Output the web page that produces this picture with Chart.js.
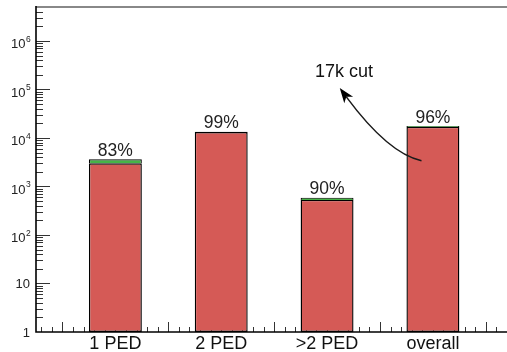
<!DOCTYPE html>
<html>
<head>
<meta charset="utf-8">
<script src="https://cdn.jsdelivr.net/npm/chart.js@4/dist/chart.umd.min.js"></script>
<style>
  html, body { margin: 0; padding: 0; background: #fff; overflow: hidden; }
  canvas { display: block; }
</style>
</head>
<body>
<canvas id="c" width="507" height="352"></canvas>
<script>
// Event categories and their positions on the x axis
const categories = ['1 PED', '2 PED', '>2 PED', 'overall'];
const positions = [1, 2, 3, 4];
// All events and events surviving the cut, per category
const totals = [3620, 13400, 585, 17600];
const passed = [3000, 13270, 527, 16900];
// Axis ranges and decade labels of the log axis
const xRange = [0.25, 4.7];
const yRange = [1, 5e6];
const decades = [0, 1, 2, 3, 4, 5, 6];
// Annotation text
const noteText = '17k cut';

const FONT = '"Liberation Sans", Arial, Helvetica, sans-serif';
const RED = 'rgb(213, 90, 86)';
const GREEN = 'rgb(70, 180, 70)';

const pct = totals.map((t, i) => Math.round(100 * passed[i] / t) + '%');

const framePlugin = {
  id: 'frame',
  beforeDatasetsDraw(chart) {
    const { ctx, chartArea: a, scales: { x, y } } = chart;
    ctx.save();
    ctx.strokeStyle = '#333';
    ctx.lineWidth = 1;
    ctx.beginPath();
    // x ticks: every 0.1, long ones between the bars
    for (let k = Math.ceil(xRange[0] * 10); k <= Math.floor(xRange[1] * 10); k++) {
      const px = Math.round(x.getPixelForValue(k / 10)) + 0.5;
      if (px <= a.left + 1) continue;
      const len = (k % 10 === 5) ? 10 : 5;
      ctx.moveTo(px, a.bottom);
      ctx.lineTo(px, a.bottom - len);
    }
    // y ticks: decades long, 2..9 short
    decades.forEach(n => {
      for (let m = 1; m <= 9; m++) {
        const v = m * Math.pow(10, n);
        if (v > yRange[1] || v <= yRange[0]) continue;
        const py = Math.round(y.getPixelForValue(v)) + 0.5;
        const len = (m === 1) ? 14 : 7;
        ctx.moveTo(a.left, py);
        ctx.lineTo(a.left + len, py);
      }
    });
    ctx.stroke();
    ctx.restore();
  },
  afterDatasetsDraw(chart) {
    const { ctx, chartArea: a, scales: { x, y } } = chart;
    ctx.save();
    // frame: grey top line, black left and bottom axes
    ctx.strokeStyle = '#888';
    ctx.lineWidth = 2;
    ctx.beginPath();
    ctx.moveTo(a.left, a.top);
    ctx.lineTo(a.right, a.top);
    ctx.stroke();
    ctx.strokeStyle = '#000';
    ctx.lineWidth = 1.6;
    ctx.beginPath();
    ctx.moveTo(a.left, a.top - 1);
    ctx.lineTo(a.left, a.bottom);
    ctx.lineTo(a.right, a.bottom);
    ctx.stroke();

    // y labels: 1, 10, 10^n
    ctx.fillStyle = '#222';
    ctx.textAlign = 'right';
    ctx.textBaseline = 'alphabetic';
    decades.forEach(n => {
      const py = y.getPixelForValue(Math.pow(10, n));
      if (n < 2) {
        ctx.font = '13px ' + FONT;
        ctx.fillText(n === 0 ? '1' : '10', 30, py + 4.5);
      } else {
        ctx.font = '13px ' + FONT;
        ctx.textAlign = 'right';
        ctx.fillText('10', 25.5, py + 7.5);
        ctx.font = '8.5px ' + FONT;
        ctx.textAlign = 'left';
        ctx.fillText(String(n), 26, py + 1);
        ctx.textAlign = 'right';
      }
    });

    // category labels under the bars
    ctx.font = '18px ' + FONT;
    ctx.textAlign = 'center';
    ctx.textBaseline = 'alphabetic';
    ctx.fillStyle = '#111';
    positions.forEach((p, i) => {
      ctx.fillText(categories[i], x.getPixelForValue(p), a.bottom + 17);
    });

    // efficiency labels above the bars
    ctx.font = '17.5px ' + FONT;
    ctx.fillStyle = '#222';
    positions.forEach((p, i) => {
      ctx.fillText(pct[i], x.getPixelForValue(p), y.getPixelForValue(totals[i]) - 3.5);
    });

    // annotation: text and curved arrow (data coordinates)
    ctx.textAlign = 'left';
    ctx.font = '18px ' + FONT;
    ctx.fillStyle = '#111';
    ctx.fillText(noteText, x.getPixelForValue(2.885), y.getPixelForValue(1.8e5));

    const p0 = [x.getPixelForValue(3.892), y.getPixelForValue(3400)];
    const c = [x.getPixelForValue(3.578), y.getPixelForValue(4800)];
    const p2 = [x.getPixelForValue(3.12), y.getPixelForValue(1.07e5)];
    const dx = p2[0] - c[0], dy = p2[1] - c[1];
    const L = Math.hypot(dx, dy);
    const ux = dx / L, uy = dy / L;
    const nx = -uy, ny = ux;
    const headLen = 15, headHalf = 5.5, notch = 4;
    const base = [p2[0] - ux * (headLen - notch), p2[1] - uy * (headLen - notch)];

    ctx.strokeStyle = '#1a1a1a';
    ctx.lineWidth = 1.5;
    ctx.beginPath();
    ctx.moveTo(p0[0], p0[1]);
    ctx.quadraticCurveTo(c[0], c[1], base[0], base[1]);
    ctx.stroke();

    ctx.fillStyle = '#000';
    ctx.beginPath();
    ctx.moveTo(p2[0], p2[1]);
    ctx.lineTo(p2[0] - ux * headLen + nx * headHalf, p2[1] - uy * headLen + ny * headHalf);
    ctx.lineTo(base[0], base[1]);
    ctx.lineTo(p2[0] - ux * headLen - nx * headHalf, p2[1] - uy * headLen - ny * headHalf);
    ctx.closePath();
    ctx.fill();
    ctx.restore();
  }
};

new Chart(document.getElementById('c'), {
  type: 'bar',
  data: {
    datasets: [
      {
        label: 'passed',
        data: positions.map((p, i) => ({ x: p, y: [yRange[0], passed[i]] })),
        backgroundColor: RED,
        borderColor: '#000',
        borderWidth: 1.4,
        borderSkipped: false,
        grouped: false,
        categoryPercentage: 1,
        barPercentage: 0.5
      },
      {
        label: 'rejected',
        data: positions.map((p, i) => ({ x: p, y: [passed[i], totals[i]] })),
        backgroundColor: GREEN,
        borderColor: '#000',
        borderWidth: 1.2,
        borderSkipped: 'start',
        grouped: false,
        categoryPercentage: 1,
        barPercentage: 0.5
      }
    ]
  },
  options: {
    responsive: false,
    animation: false,
    devicePixelRatio: 1,
    layout: { padding: { left: 36, top: 7, right: 0, bottom: 20 } },
    plugins: { legend: { display: false }, tooltip: { enabled: false } },
    scales: {
      x: {
        type: 'linear', min: xRange[0], max: xRange[1], display: false, offset: false,
        ticks: { stepSize: 1, includeBounds: false }
      },
      y: { type: 'logarithmic', min: yRange[0], max: yRange[1], display: false }
    }
  },
  plugins: [framePlugin]
});
</script>
</body>
</html>
